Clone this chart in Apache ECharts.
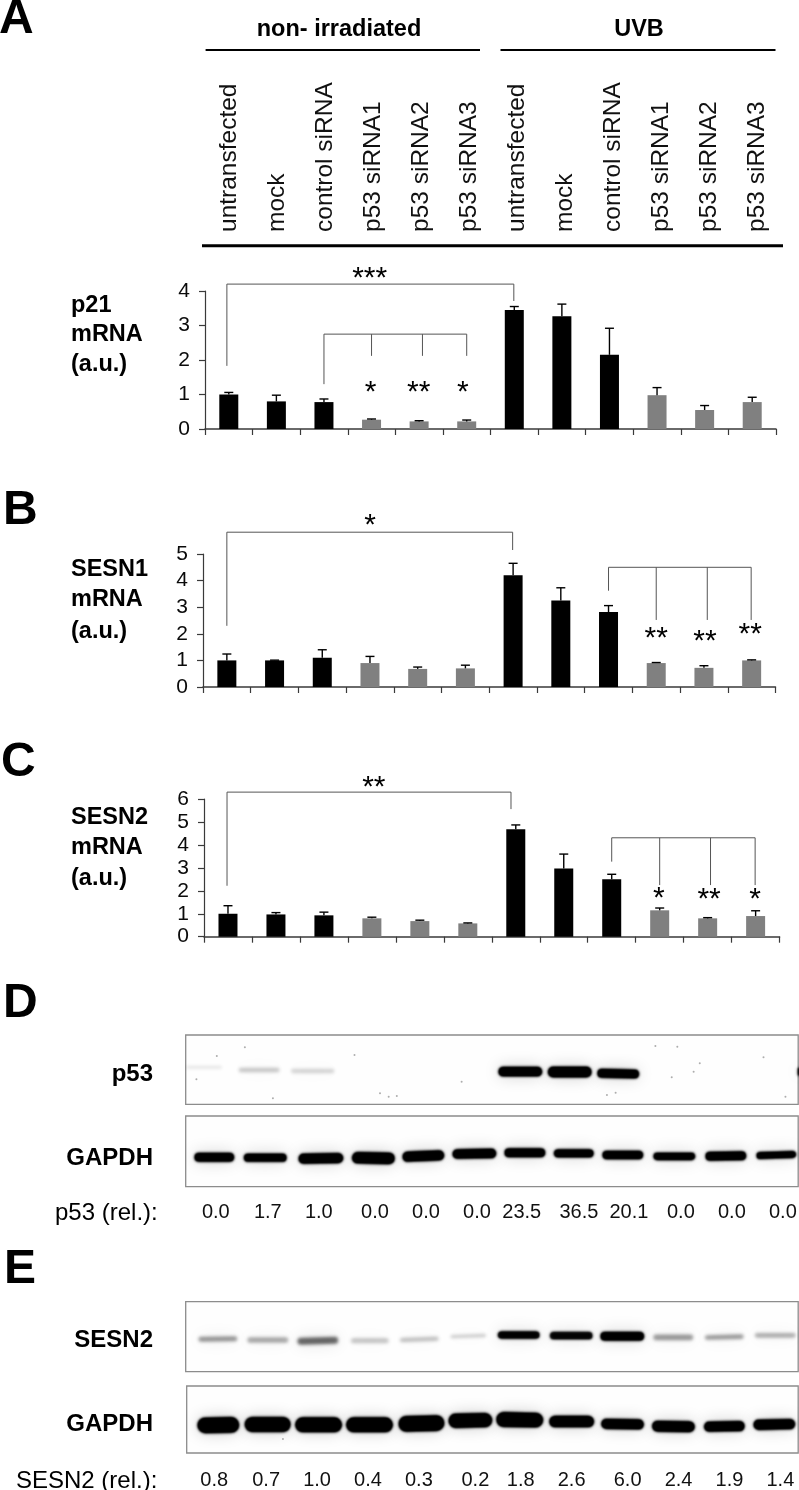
<!DOCTYPE html>
<html><head><meta charset="utf-8">
<style>html,body{margin:0;padding:0;background:#fff}#c{width:799px;height:1490px}</style>
<script src="https://cdn.jsdelivr.net/npm/echarts@6/dist/echarts.min.js"></script>
</head><body><div id="c"></div>
<script>
const conditions = ['untransfected','mock','control siRNA','p53 siRNA1','p53 siRNA2','p53 siRNA3','untransfected','mock','control siRNA','p53 siRNA1','p53 siRNA2','p53 siRNA3'];
const isKnockdown = [0,0,0,1,1,1,0,0,0,1,1,1];

const p21Values  = [1.0,0.8,0.78,0.27,0.22,0.22,3.45,3.27,2.15,0.98,0.55,0.78];
const p21Upper   = [1.06,0.98,0.87,0.29,0.24,0.26,3.55,3.62,2.92,1.2,0.68,0.92];
const sesn1Values= [1.0,1.0,1.1,0.9,0.68,0.7,4.2,3.25,2.82,0.9,0.72,1.0];
const sesn1Upper = [1.24,1.01,1.4,1.15,0.75,0.82,4.65,3.73,3.06,0.92,0.8,1.02];
const sesn2Values= [1.0,0.97,0.93,0.8,0.68,0.58,4.68,2.97,2.5,1.15,0.8,0.9];
const sesn2Upper = [1.35,1.05,1.07,0.85,0.72,0.6,4.87,3.6,2.72,1.25,0.83,1.13];

// significance brackets: [from, fromEnd, top, [[x, end], ...]]
const p21Brackets  = [[-0.04,1.83,4.2,[[5.99,3.71]]],[2.0,1.3,2.75,[[3.0,2.12],[4.07,2.12],[5.0,2.12]]]];
const sesn1Brackets= [[0,2.3,5.82,[[5.99,5.15]]],[8.0,3.62,4.5,[[9.0,2.52],[10.07,2.52],[10.99,2.52]]]];
const sesn2Brackets= [[-0.02,2.22,6.3,[[5.9,5.56]]],[8.0,3.27,4.31,[[9.0,2.25],[10.06,2.25],[10.99,2.25]]]];
const p21Stars   = [[2.96,4.49,'***'],[2.98,1.19,'*'],[3.99,1.19,'**'],[4.92,1.19,'*']];
const sesn1Stars = [[3.0,6.25,'*'],[9.0,1.99,'**'],[10.02,1.88,'**'],[10.97,2.14,'**']];
const sesn2Stars = [[3.04,6.71,'**'],[8.98,1.86,'*'],[10.03,1.82,'**'],[10.99,1.85,'*']];

const p53Bands = [[400,70,292,9,.10,0],[508,80,300,13,.22,0],[613,85,303,13,.17,0],[1020,84,305,26,1,0],[1117,84,306,30,1,0],[1212,80,311,24,1,-1],[1568,6,305,24,.8,0]];
const gapdhDBands = [[420,76,562,24,1,0],[520,82,563,22,1,0],[629,86,565,28,1,1],[732,82,564,32,1,-1],[830,80,558,28,1,2.5],[930,84,551,26,1,1],[1029,78,548,24,1,0],[1125,76,550,22,1,0],[1221,78,555,22,1,0],[1322,80,559,20,.95,0],[1423,78,558,24,1,1],[1522,76,555,18,1,2]];
const sesn2Bands = [[427,76,297,15,.42,1],[525,80,300,17,.34,0],[623,80,302,21,.6,1.5],[725,74,302,16,.22,0],[822,76,298,14,.24,2],[918,70,288,10,.2,2],[1017,80,285,20,.88,0],[1120,82,287,20,.78,0],[1220,84,289,24,.92,0],[1320,78,292,17,.4,0],[1420,76,291,14,.4,1.5],[1520,80,286,14,.32,0]];
const gapdhEBands = [[428,80,556,44,1,1],[525,88,554,42,1,0],[625,90,555,42,1,0],[725,90,555,42,1,0],[827,88,551,44,1,1.5],[923,84,542,40,1,1],[1020,90,540,42,1,-1],[1122,86,545,32,1,0],[1222,82,553,28,1,-1],[1322,82,560,30,1,-1],[1422,78,560,28,1,1],[1520,80,554,28,1,1]];
const p53Specks = [[385,328],[695,255],[745,370],[762,380],[778,378],[1207,368],[1190,375],[1328,230],[1285,228],[1317,322],[1360,305],[535,385],[1372,280],[1497,262],[1540,380],[480,232],[425,258],[905,335]];
const gapdhESpecks = [[555,598]];

const p53Relative = ['0.0','1.7','1.0','0.0','0.0','0.0','23.5','36.5','20.1','0.0','0.0','0.0'];
const p53RelPos = [423,525,625,735,835,935,1023,1135,1233,1335,1435,1535];
const sesn2Relative = ['0.8','0.7','1.0','0.4','0.3','0.2','1.8','2.6','6.0','2.4','1.9','1.4'];
const sesn2RelPos = [420,522,622,722,822,933,1022,1122,1232,1332,1432,1532];

const FF = '"Liberation Sans", Arial, sans-serif';
const INK = '#0a0a0a';
const OFF = 3000;
const chart = echarts.init(document.getElementById('c'), null, {renderer:'canvas'});

const grid=[], xAxis=[], yAxis=[], series=[];

function addBars(box, yMax, interval, values, upper, brackets, stars){
  const g = grid.length; grid.push(Object.assign({containLabel:false}, box));
  const xCat = xAxis.length;
  xAxis.push({gridIndex:g,type:'category',data:conditions,boundaryGap:true,
    axisLine:{show:true,onZero:false,lineStyle:{color:'#3a3a3a',width:1.5}},
    axisTick:{show:true,length:6,alignWithLabel:false,interval:0,lineStyle:{color:'#3a3a3a',width:1.2}},
    axisLabel:{show:false},splitLine:{show:false}});
  const xVal = xAxis.length;
  xAxis.push({gridIndex:g,type:'value',min:-0.5,max:11.5,show:false,splitLine:{show:false}});
  const y = yAxis.length;
  yAxis.push({gridIndex:g,type:'value',min:0,max:yMax,interval:interval,
    axisLine:{show:true,onZero:false,lineStyle:{color:'#3a3a3a',width:1.2}},
    axisTick:{show:true,length:6,lineStyle:{color:'#3a3a3a',width:1.2}},
    axisLabel:{color:INK,fontFamily:FF,fontSize:21,margin:15},splitLine:{show:false}});
  series.push({type:'bar',xAxisIndex:xCat,yAxisIndex:y,barWidth:19,animation:false,
    data:values.map((v,i)=>({value:v,itemStyle:{color:isKnockdown[i]?'#808080':'#000'}}))});
  series.push({type:'custom',xAxisIndex:xCat,yAxisIndex:y,animation:false,z:3,
    data:values.map((v,i)=>[i,v,upper[i]]),
    renderItem(p,api){
      const a=api.coord([api.value(0),api.value(1)]), b=api.coord([api.value(0),api.value(2)]);
      const ls={stroke:'#000',lineWidth:1.4,fill:null};
      return {type:'group',children:[
        {type:'line',shape:{x1:a[0],y1:a[1],x2:b[0],y2:b[1]},style:ls},
        {type:'line',shape:{x1:a[0]-4.5,y1:b[1],x2:a[0]+4.5,y2:b[1]},style:ls}]};
    }});
  series.push({type:'custom',xAxisIndex:xVal,yAxisIndex:y,animation:false,z:4,
    data:brackets.map((b,i)=>[b[0],b[2],i]),
    renderItem(p,api){
      const b=brackets[p.dataIndex], top=api.coord([b[0],b[2]]), st={stroke:'#555',lineWidth:1,fill:null};
      const far=b[3][b[3].length-1];
      const farPt=api.coord([far[0],b[2]]), fromEnd=api.coord([b[0],b[1]]);
      const ch=[{type:'line',shape:{x1:top[0],y1:top[1],x2:farPt[0],y2:top[1]},style:st},
                {type:'line',shape:{x1:top[0],y1:top[1],x2:top[0],y2:fromEnd[1]},style:st}];
      b[3].forEach(d=>{const t=api.coord([d[0],b[2]]),e=api.coord([d[0],d[1]]);
        ch.push({type:'line',shape:{x1:t[0],y1:t[1],x2:t[0],y2:e[1]},style:st});});
      return {type:'group',children:ch};
    }});
  series.push({type:'custom',xAxisIndex:xVal,yAxisIndex:y,animation:false,z:4,
    data:stars.map(s=>[s[0],s[1]]),
    renderItem(p,api){
      const c=api.coord([api.value(0),api.value(1)]);
      return {type:'text',style:{x:c[0],y:c[1]+5,text:stars[p.dataIndex][2],align:'center',verticalAlign:'middle',fill:'#000',font:'30px '+FF}};
    }});
}
addBars({left:205,top:291,width:571,height:138},4,1,p21Values,p21Upper,p21Brackets,p21Stars);
addBars({left:203,top:554,width:572.5,height:133},5,1,sesn1Values,sesn1Upper,sesn1Brackets,sesn1Stars);
addBars({left:204,top:799,width:575.6,height:137.7},6,1,sesn2Values,sesn2Upper,sesn2Brackets,sesn2Stars);

// header of conditions
(function(){
  const g=grid.length; grid.push({left:205.5,top:245,width:576,height:2});
  xAxis.push({gridIndex:g,type:'category',position:'top',data:conditions,
    axisLine:{show:false},axisTick:{show:false},
    axisLabel:{interval:0,rotate:90,color:'#111',fontFamily:FF,fontSize:24.5,margin:13,hideOverlap:false}});
  const y=yAxis.length; yAxis.push({gridIndex:g,type:'value',show:false,min:0,max:1});
  series.push({type:'bar',xAxisIndex:xAxis.length-1,yAxisIndex:y,data:[],silent:true});
})();

function addGel(box,xMin,xMax,yMin,yMax,bands,specks,rel,relPos,relY){
  const g=grid.length; grid.push(Object.assign({show:true,borderColor:'#8c8c8c',borderWidth:1.3,backgroundColor:'#fefefe'},box));
  const xi=xAxis.length; xAxis.push({gridIndex:g,type:'value',min:xMin,max:xMax,show:false,splitLine:{show:false}});
  const yi=yAxis.length; yAxis.push({gridIndex:g,type:'value',min:yMin,max:yMax,inverse:true,show:false,splitLine:{show:false}});
  series.push({type:'custom',xAxisIndex:xi,yAxisIndex:yi,animation:false,clip:true,
    data:bands.map(b=>[b[0],b[2]]),
    renderItem(p,api){
      const b=bands[p.dataIndex], c=api.coord([b[0],b[2]]), s=api.size([b[1],b[3]]);
      const shape={x:-s[0]/2,y:-s[1]/2,width:s[0],height:s[1],r:s[1]/2};
      const blob=(blur,alpha)=>({type:'rect',x:c[0]-OFF,y:c[1],rotation:b[5]*Math.PI/180,shape,
        style:{fill:'#000',shadowBlur:blur,shadowOffsetX:OFF,shadowColor:'rgba(0,0,0,'+alpha+')'}});
      const kids=[blob(16,0.22*b[4]),blob(3.5,b[4])];
      if(b[4]>0.7){kids.push(blob(2.5,b[4]));kids.push(blob(2,b[4]));}
      return {type:'group',children:kids};
    }});
  if(specks&&specks.length) series.push({type:'scatter',xAxisIndex:xi,yAxisIndex:yi,animation:false,silent:true,
    symbolSize:2,itemStyle:{color:'#999'},data:specks});
  if(rel) series.push({type:'custom',xAxisIndex:xi,yAxisIndex:yi,animation:false,
    data:rel.map((r,i)=>[relPos[i],relY]),
    renderItem(p,api){
      const c=api.coord([api.value(0),api.value(1)]);
      return {type:'text',style:{x:c[0],y:c[1],text:rel[p.dataIndex],align:'center',verticalAlign:'middle',fill:'#111',font:'20px '+FF}};
    }});
}
addGel({left:185.7,top:1035,width:612.5,height:69.3},364,1565,195,403,p53Bands,p53Specks);
addGel({left:185.7,top:1116,width:612.5,height:70.7},364,1565,438,650,gapdhDBands,[],p53Relative,p53RelPos,728);
addGel({left:185.7,top:1301.7,width:612.5,height:70},364,1565,185,395,sesn2Bands,[]);
addGel({left:186.7,top:1386,width:611.5,height:67},366,1567,438,640,gapdhEBands,gapdhESpecks,sesn2Relative,sesn2RelPos,724);

function txt(x,y,t,size,bold,align){
  return {type:'text',x:x,y:y+2,silent:true,style:{text:t,fill:'#000',font:(bold?'bold ':'')+size+'px '+FF,align:align||'left',verticalAlign:'middle'}};
}
function rule(x1,x2,y,w){return {type:'line',silent:true,shape:{x1:x1,y1:y,x2:x2,y2:y},style:{stroke:'#000',lineWidth:w}};}
const graphicEls=[
  txt(-1,18,'A',48,true),txt(3,509,'B',48,true),txt(1,761,'C',48,true),txt(3,1002,'D',48,true),txt(4,1268,'E',48,true),
  txt(339,28,'non- irradiated',23.5,true,'center'),txt(639,28,'UVB',23.5,true,'center'),
  rule(205.6,480,50,2),rule(500.5,775.5,50,2),rule(202,783,245.7,3),
  txt(71,304,'p21',23.5,true),txt(71,333,'mRNA',23.5,true),txt(71,363,'(a.u.)',23.5,true),
  txt(71,568,'SESN1',23.5,true),txt(71,598,'mRNA',23.5,true),txt(71,630,'(a.u.)',23.5,true),
  txt(71,816,'SESN2',23.5,true),txt(71,846,'mRNA',23.5,true),txt(71,877,'(a.u.)',23.5,true),
  txt(153,1072,'p53',24,true,'right'),txt(153,1156,'GAPDH',24,true,'right'),
  txt(153,1338,'SESN2',24,true,'right'),txt(153,1422,'GAPDH',24,true,'right'),
  txt(55,1211,'p53 (rel.):',24,false),txt(16,1479,'SESN2 (rel.):',24,false)
];
chart.setOption({animation:false,backgroundColor:'#fff',grid,xAxis,yAxis,series,graphic:{elements:graphicEls}});
</script></body></html>
